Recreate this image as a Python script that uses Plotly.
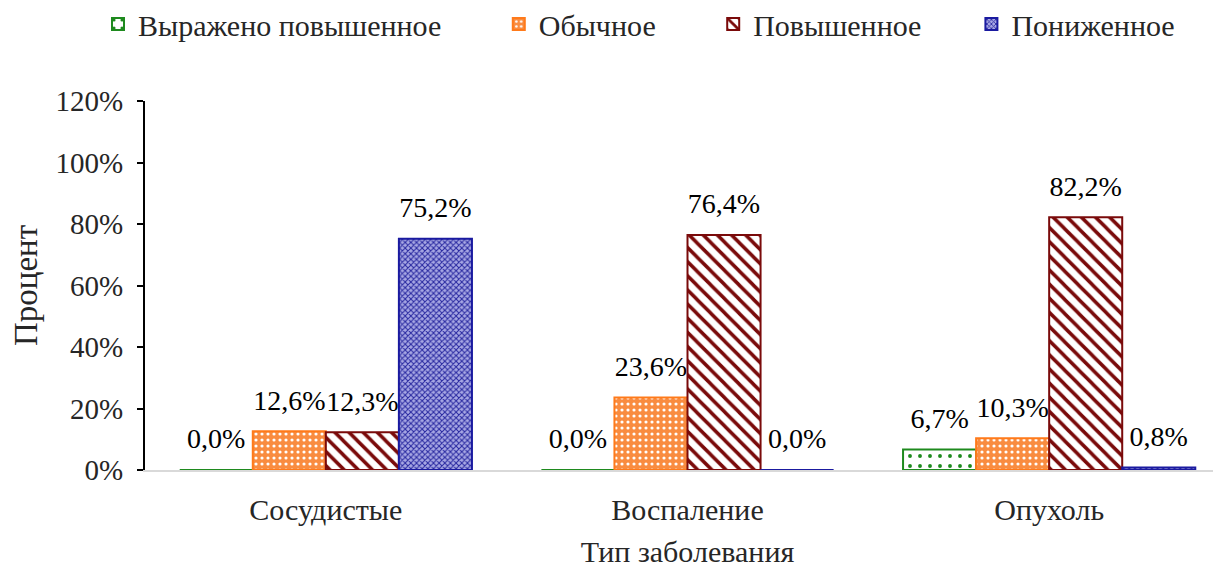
import plotly.graph_objects as go

categories = ["Сосудистые", "Воспаление", "Опухоль"]
series_names = ["Выражено повышенное", "Обычное", "Повышенное", "Пониженное"]
v_strong = [0.0, 0.0, 0.067]
v_normal = [0.126, 0.236, 0.103]
v_high = [0.123, 0.764, 0.822]
v_low = [0.752, 0.0, 0.008]
y_ticks = [0, 0.2, 0.4, 0.6, 0.8, 1.0, 1.2]

FONT = "Liberation Serif"
TXT = "#262626"

styles = [
    dict(line="#1E8A1E", fg="#1E8A1E", bg="white", shape=".", size=10, sol=0.12),
    dict(line="#FF7A1A", fg="white", bg="#F98C40", shape=".", size=6, sol=0.22),
    dict(line="#7A0A0A", fg="#7A0A0A", bg="white", shape="\\", size=10, sol=0.35),
    dict(line="#1A1AA0", fg="#2828A0", bg="#A8A8E4", shape="x", size=4, sol=0.45),
]
values = [v_strong, v_normal, v_high, v_low]
pad = ["\u00a0" * 7, "\u00a0" * 7, "\u00a0" * 6, ""]

# page body has an 8px margin, so the figure is sized/shifted to compensate;
# the plot area runs past the right edge of the window, as in the reference
W, H = 1222, 560
ML, MR, MT, MB = 137, 0, 93, 98
PW, PH = W - ML - MR, H - MT - MB

fig = go.Figure()
for name, vals, st, p in zip(series_names, values, styles, pad):
    fig.add_trace(go.Bar(
        name=name + p, x=categories, y=vals,
        marker=dict(
            color=st["bg"],
            line=dict(color=st["line"], width=2),
            pattern=dict(shape=st["shape"], fgcolor=st["fg"], bgcolor=st["bg"],
                         size=st["size"], solidity=st["sol"], fillmode="replace"),
        ),
        texttemplate="<span style='font-size:28px'>%{y:.1%}</span><br>\u00a0",
        textposition="outside", constraintext="none",
        textfont=dict(family=FONT, size=12, color="black"),
        cliponaxis=False,
    ))

fig.update_layout(
    width=W, height=H,
    separators=", ",
    barmode="group", bargap=0.192, bargroupgap=0,
    plot_bgcolor="white", paper_bgcolor="white",
    margin=dict(l=ML, r=MR, t=MT, b=MB, autoexpand=False),
    font=dict(family=FONT, size=29, color=TXT),
    legend=dict(orientation="h", x=(90 - ML) / PW, xanchor="left",
                y=1 + (MT - 16) / PH, yanchor="middle",
                font=dict(family=FONT, size=30, color=TXT),
                itemwidth=30, traceorder="normal"),
    xaxis=dict(showline=True, linecolor="#D9D9D9", linewidth=2, ticks="",
               automargin=False, ticklabelstandoff=12,
               title=dict(text="Тип заболевания", font=dict(size=30), standoff=16),
               tickfont=dict(size=30)),
    yaxis=dict(range=[0, 1.2], tickvals=y_ticks, tickformat=".0%",
               automargin=False,
               showline=True, linecolor="black", linewidth=2, ticks="outside",
               ticklen=6, tickwidth=2, tickcolor="black", showgrid=False,
               zeroline=False, ticklabelstandoff=8,
               title=dict(text="Процент", font=dict(size=33), standoff=8),
               tickfont=dict(size=29)),
)

fig.write_html("out.html")
